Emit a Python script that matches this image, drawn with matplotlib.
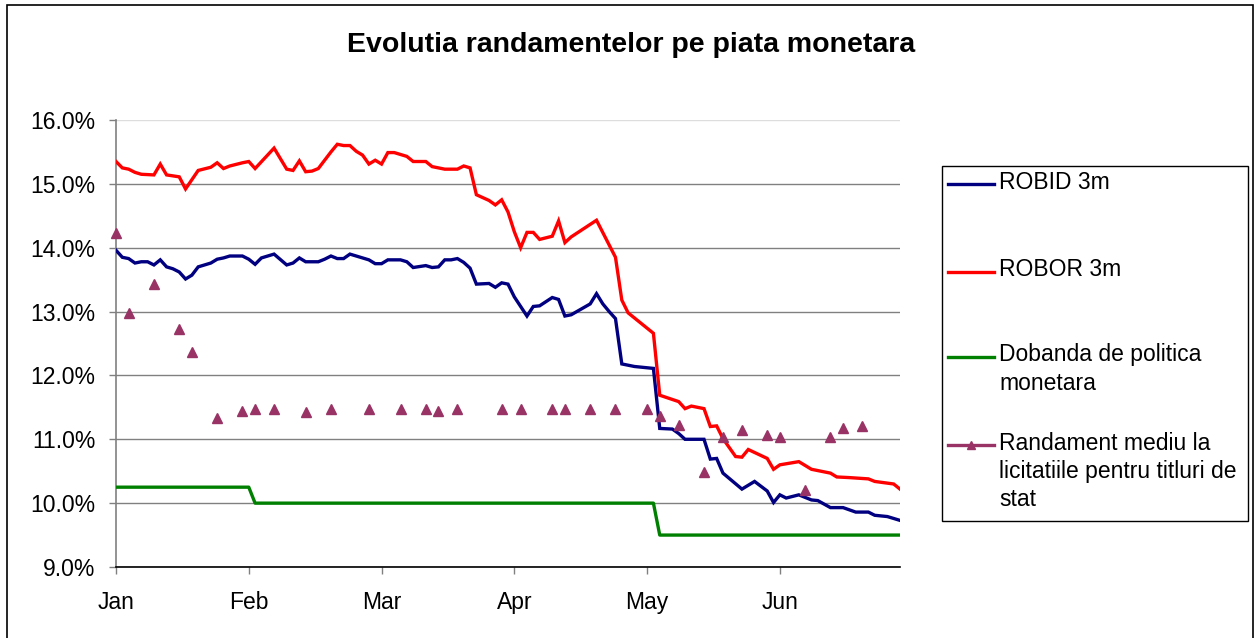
import matplotlib
matplotlib.use("Agg")
import matplotlib.pyplot as plt
from matplotlib.lines import Line2D
from matplotlib.patches import Rectangle
from matplotlib.ticker import FuncFormatter, FixedLocator

plt.rcParams['font.family'] = ['Liberation Sans', 'DejaVu Sans']

W, H = 1256, 638

title = "Evolutia randamentelor pe piata monetara"
months = ["Jan", "Feb", "Mar", "Apr", "May", "Jun"]
month_start_idx = [0, 21, 42, 63, 84, 105]
last_idx = 124

# ROBID 3m (business-day index, %)
robid_idx = [0, 1, 2, 3, 4, 5, 6, 7, 8, 9, 10, 11, 12, 13, 15, 16, 17, 18, 20, 21, 22, 23, 25, 27, 28,
             29, 30, 31, 32, 33, 34, 35, 36, 37, 40, 41, 42, 43, 45, 46, 47, 49, 50, 51, 52, 53, 54, 55,
             56, 57, 59, 60, 61, 62, 63, 64, 65, 66, 67, 69, 70, 71, 72, 75, 76, 77, 78, 79, 80, 82, 85,
             86, 88, 89, 90, 93, 94, 95, 96, 99, 101, 103, 104, 105, 106, 108, 110, 111, 113, 115, 117,
             119, 120, 122, 124]
robid_val = [13.96, 13.85, 13.83, 13.76, 13.78, 13.78, 13.73, 13.81, 13.70, 13.67, 13.62, 13.51, 13.57,
             13.70, 13.76, 13.82, 13.84, 13.87, 13.87, 13.82, 13.74, 13.84, 13.90, 13.73, 13.76,
             13.84, 13.78, 13.78, 13.78, 13.82, 13.87, 13.83, 13.83, 13.90, 13.81, 13.75, 13.75, 13.81,
             13.81, 13.78, 13.69, 13.72, 13.69, 13.70, 13.81, 13.81, 13.83, 13.77,
             13.68, 13.43, 13.44, 13.38, 13.45, 13.43, 13.23, 13.08, 12.93, 13.08, 13.09, 13.22, 13.19,
             12.93, 12.95, 13.12, 13.28, 13.12, 13.00, 12.89, 12.18, 12.14, 12.11,
             11.17, 11.16, 11.09, 11.00, 11.00, 10.69, 10.70, 10.47, 10.22, 10.34, 10.19, 10.01, 10.13,
             10.08, 10.13, 10.05, 10.04, 9.93, 9.93, 9.86, 9.86, 9.81, 9.79, 9.73]

# ROBOR 3m
robor_idx = [0, 1, 2, 3, 4, 6, 7, 8, 10, 11, 13, 15, 16, 17, 18, 20, 21, 22, 25, 27, 28, 29, 30, 31, 32,
             33, 34, 35, 36, 37, 38, 39, 40, 41, 42, 43, 44, 46, 47, 49, 50, 52, 54, 55, 56, 57, 59, 60,
             61, 62, 63, 64, 65, 66, 67, 69, 70, 71, 72, 76, 79, 80, 81, 83, 85, 86, 89, 90, 91, 93, 94,
             95, 96, 98, 99, 100, 103, 104, 105, 108, 110, 113, 114, 116, 119, 120, 123, 124]
robor_val = [15.35, 15.25, 15.23, 15.18, 15.15, 15.14, 15.31, 15.14, 15.11, 14.92, 15.21, 15.26, 15.33,
             15.24, 15.28, 15.33, 15.35, 15.24, 15.56, 15.23, 15.21, 15.36, 15.19, 15.20, 15.24,
             15.37, 15.50, 15.62, 15.60, 15.60, 15.51, 15.45, 15.31, 15.37, 15.31, 15.49, 15.49, 15.43,
             15.35, 15.35, 15.27, 15.23, 15.23, 15.28, 15.25, 14.83, 14.74, 14.67,
             14.75, 14.56, 14.25, 14.00, 14.24, 14.24, 14.13, 14.18, 14.42, 14.08, 14.17, 14.43, 13.85,
             13.18, 12.98, 12.82, 12.66, 11.69, 11.59, 11.48, 11.52, 11.48, 11.20,
             11.21, 11.01, 10.73, 10.72, 10.84, 10.70, 10.53, 10.60, 10.65, 10.53, 10.47, 10.41, 10.40,
             10.38, 10.34, 10.30, 10.22]

# Dobanda de politica monetara
policy_idx = [0, 21, 22, 85, 86, 124]
policy_val = [10.25, 10.25, 10.00, 10.00, 9.50, 9.50]

# Randament mediu la licitatiile pentru titluri de stat
auction_idx = [0, 2, 6, 10, 12, 16, 20, 22, 25, 30, 34, 40, 45, 49, 51, 54, 61, 64, 69, 71, 75, 79, 84,
               86, 89, 93, 96, 99, 103, 105, 109, 113, 115, 118]
auction_val = [14.23, 12.97, 13.43, 12.72, 12.36, 11.33, 11.45, 11.47, 11.47, 11.42, 11.47, 11.47, 11.48,
               11.48, 11.44, 11.48, 11.48, 11.48, 11.48, 11.48, 11.48, 11.48, 11.48,
               11.37, 11.22, 10.49, 11.03, 11.15, 11.07, 11.03, 10.21, 11.03, 11.18, 11.21]

labels = ["ROBID 3m", "ROBOR 3m", "Dobanda de politica\nmonetara",
          "Randament mediu la\nlicitatiile pentru titluri de\nstat"]
colors = ["#000080", "#FF0000", "#008000", "#993366"]

y_ticks = [9, 10, 11, 12, 13, 14, 15, 16]

fig = plt.figure(figsize=(W / 100, H / 100), dpi=100)


def fx(x):
    return x / W


def fy(y):
    return 1 - y / H


ax = fig.add_axes([fx(116), fy(567), fx(900) - fx(116), fy(120) - fy(567)])
ax.set_xlim(0, last_idx)
ax.set_ylim(y_ticks[0], y_ticks[-1])

lw = 2.4
ax.plot(robid_idx, robid_val, color=colors[0], lw=lw, solid_joinstyle='miter', zorder=4)
ax.plot(robor_idx, robor_val, color=colors[1], lw=lw, solid_joinstyle='miter', zorder=4)
ax.plot(policy_idx, policy_val, color=colors[2], lw=lw, zorder=3)
ax.plot(auction_idx, auction_val, linestyle='none', marker='^', ms=7, color=colors[3],
        markeredgecolor=colors[3], zorder=5, clip_on=False)

ax.yaxis.set_major_locator(FixedLocator(y_ticks))
ax.yaxis.set_major_formatter(FuncFormatter(lambda v, p: f"{v:.1f}%"))
ax.xaxis.set_major_locator(FixedLocator(month_start_idx))
ax.set_xticklabels(months)

ax.grid(axis='y', color='#808080', lw=1.0)
gl = ax.get_ygridlines()
gl[-1].set_color('#DDDDDD')
ax.set_axisbelow(True)

for s in ['top', 'right']:
    ax.spines[s].set_visible(False)
ax.spines['left'].set_color('#808080')
ax.spines['left'].set_linewidth(1.2)
ax.spines['bottom'].set_color('black')
ax.spines['bottom'].set_linewidth(1.2)

ax.tick_params(axis='y', direction='out', length=5, width=1, color='#808080',
               labelsize=16.5, pad=10)
ax.tick_params(axis='x', direction='out', length=5, width=1, color='#808080',
               labelsize=16.5, pad=12)

fig.text(fx(631), fy(45), title, ha='center', va='center', fontsize=20.5, fontweight='bold')

# legend box (Excel-style)
fig.add_artist(Rectangle((fx(942), fy(521)), fx(1248) - fx(942), fy(166) - fy(521),
                         transform=fig.transFigure, fill=False, ec='black', lw=1.0))
first_line_y = [182.5, 270, 355, 443]
line_step = 28.3
for lab, col, y0 in zip(labels, colors, first_line_y):
    fig.add_artist(Line2D([fx(947.5), fx(994)], [fy(y0 + 1.5), fy(y0 + 1.5)],
                          transform=fig.transFigure, color=col, lw=2.4))
    if col == colors[3]:
        fig.add_artist(Line2D([fx(971)], [fy(y0 + 1.5)], transform=fig.transFigure,
                              color=col, marker='^', ms=6, linestyle='none'))
    for i, part in enumerate(lab.split("\n")):
        fig.text(fx(999), fy(y0 + i * line_step), part, ha='left', va='center', fontsize=16.5)

# chart area border
fig.add_artist(Rectangle((fx(6.5), fy(645)), fx(1252.5) - fx(6.5), fy(5) - fy(645),
                         transform=fig.transFigure, fill=False, ec='black', lw=1.2, clip_on=False))

fig.savefig("out.png", dpi=100)
